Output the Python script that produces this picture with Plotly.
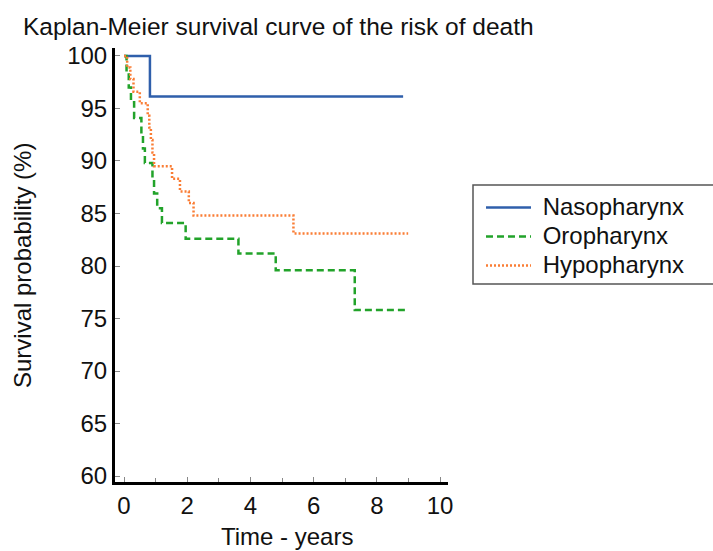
import plotly.graph_objects as go

naso_t = [0, 0.82, 8.83]
naso_s = [100, 96.15, 96.15]

oro_t = [0, 0.08, 0.15, 0.22, 0.32, 0.55, 0.60, 0.66, 0.90, 0.95, 1.05, 1.20, 1.95, 3.62, 4.80, 7.30, 8.99]
oro_s = [100, 98.5, 97.0, 95.6, 94.1, 92.6, 91.2, 89.8, 88.3, 86.9, 85.5, 84.1, 82.6, 81.2, 79.6, 75.8, 75.8]

hypo_t = [0, 0.10, 0.20, 0.30, 0.50, 0.75, 0.80, 0.85, 0.90, 0.95, 1.52, 1.77, 2.05, 2.20, 5.36, 8.99]
hypo_s = [100, 98.9, 97.8, 96.6, 95.5, 94.3, 93.2, 92.0, 90.8, 89.5, 88.3, 87.1, 86.0, 84.8, 83.1, 83.1]

series_names = ["Nasopharynx", "Oropharynx", "Hypopharynx"]

x_ticks = [0, 2, 4, 6, 8, 10]
y_ticks = [60, 65, 70, 75, 80, 85, 90, 95, 100]

FONT = "Liberation Sans, Arial, sans-serif"
TXT = "#111111"


def leg(name):
    return '<span style="font-size:24px">\u00a0' + name + "</span>"


fig = go.Figure()
fig.add_trace(go.Scatter(x=naso_t, y=naso_s, mode="lines", name=leg(series_names[0]),
                         line=dict(color="#2F5FAB", width=2.5, shape="hv")))
fig.add_trace(go.Scatter(x=oro_t, y=oro_s, mode="lines", name=leg(series_names[1]),
                         line=dict(color="#22A32A", width=2.5, shape="hv", dash="7px,4px")))
fig.add_trace(go.Scatter(x=hypo_t, y=hypo_s, mode="lines", name=leg(series_names[2]),
                         line=dict(color="#FA7D35", width=2.5, shape="hv", dash="2px,2px")))

L, R, T, B = 115, 265, 48, 69
W, H = 713, 551
pw = W - L - R
ph = H - T - B


def px(x):
    return (x - L) / pw


def py(y):
    return (H - B - y) / ph


fig.update_layout(
    width=W, height=H,
    margin=dict(l=L, r=R, t=T, b=B, pad=0),
    paper_bgcolor="white", plot_bgcolor="white",
    font=dict(family=FONT, size=24, color=TXT),
    title=dict(text="Kaplan-Meier survival curve of the risk of death",
               xref="container", yref="container", x=23 / W, xanchor="left",
               y=1 - 26 / H, yanchor="middle", font=dict(size=24.5, color=TXT)),
    showlegend=True,
    legend=dict(x=px(481), y=py(188), xanchor="left", yanchor="top",
                borderwidth=0, bgcolor="rgba(0,0,0,0)",
                font=dict(size=20), itemwidth=45, tracegroupgap=0),
    xaxis=dict(range=[-0.285, 10.25], tickvals=x_ticks, showgrid=False, zeroline=False,
               showline=True, linecolor="black", linewidth=3, ticks="inside", ticklen=5,
               tickcolor="#888888", tickwidth=1,
               minor=dict(ticks="inside", dtick=1, tick0=0, ticklen=4, tickcolor="#888888"),
               tickfont=dict(size=24)),
    yaxis=dict(range=[59.43, 100.76], tickvals=y_ticks, showgrid=False, zeroline=False,
               showline=True, linecolor="black", linewidth=3, ticks="inside", ticklen=5,
               tickcolor="#888888", tickwidth=1, tickfont=dict(size=24)),
    shapes=[
        dict(type="rect", xref="paper", yref="paper", x0=px(473), x1=px(730),
             y0=py(185), y1=py(284), line=dict(color="#555555", width=1.5),
             fillcolor="rgba(0,0,0,0)", layer="below"),
    ],
    annotations=[
        dict(text="Survival probability (%)", xref="paper", yref="paper",
             x=px(22), y=py(266), xanchor="center", yanchor="middle",
             textangle=-90, showarrow=False, font=dict(size=24)),
        dict(text="Time - years", xref="paper", yref="paper",
             x=px(287), y=py(536), xanchor="center", yanchor="middle",
             showarrow=False, font=dict(size=24)),
    ],
)

fig.write_html("out.html")
